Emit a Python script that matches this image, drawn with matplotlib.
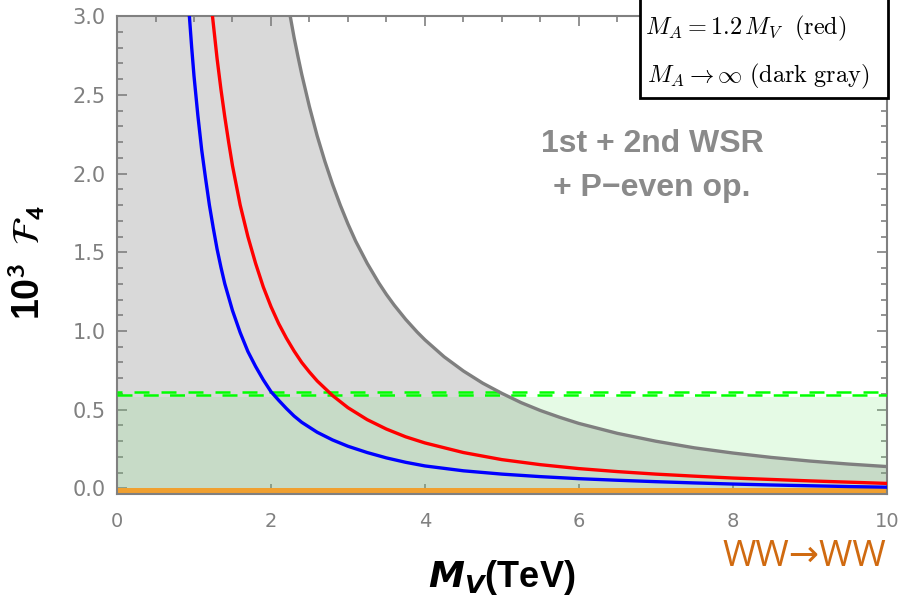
import matplotlib.pyplot as plt
from matplotlib.patches import Rectangle
from matplotlib.ticker import MultipleLocator

# curves: M_V (TeV) vs 10^3 F_4
blue_m = [0.94, 0.97, 1.0, 1.05, 1.1, 1.15, 1.2, 1.25, 1.3, 1.35, 1.4, 1.5, 1.6, 1.7, 1.8,
          1.9, 2.0, 2.1, 2.2, 2.3, 2.4, 2.6, 2.8, 3.0, 3.25, 3.5, 3.75, 4.0, 4.5, 5.0,
          5.5, 6.0, 6.5, 7.0, 7.5, 8.0, 8.5, 9.0, 9.5, 10.0]
blue_f = [3.0, 2.80, 2.62, 2.37, 2.15, 1.97, 1.80, 1.655, 1.52, 1.405, 1.30, 1.13, 0.99,
          0.87, 0.775, 0.69, 0.615, 0.56, 0.508, 0.46, 0.42, 0.357, 0.308, 0.268, 0.228,
          0.194, 0.166, 0.143, 0.112, 0.091, 0.075, 0.062, 0.052, 0.043, 0.035, 0.028,
          0.022, 0.017, 0.012, 0.008]

red_m = [1.24, 1.27, 1.3, 1.35, 1.4, 1.45, 1.5, 1.55, 1.6, 1.7, 1.8, 1.9, 2.0, 2.1, 2.2,
         2.3, 2.4, 2.5, 2.6, 2.8, 3.0, 3.25, 3.5, 3.75, 4.0, 4.5, 5.0, 5.5, 6.0, 6.5,
         7.0, 7.5, 8.0, 8.5, 9.0, 9.5, 10.0]
red_f = [3.0, 2.865, 2.73, 2.535, 2.36, 2.20, 2.05, 1.925, 1.80, 1.60, 1.43, 1.28, 1.155,
         1.047, 0.955, 0.873, 0.80, 0.739, 0.683, 0.59, 0.513, 0.437, 0.377, 0.328, 0.289,
         0.228, 0.183, 0.151, 0.126, 0.107, 0.091, 0.078, 0.066, 0.057, 0.048, 0.040, 0.032]

gray_m = [2.25, 2.3, 2.35, 2.4, 2.5, 2.6, 2.7, 2.8, 2.9, 3.0, 3.1, 3.25, 3.4, 3.5, 3.6,
          3.75, 3.9, 4.0, 4.25, 4.5, 4.75, 5.0, 5.25, 5.5, 5.75, 6.0, 6.5, 7.0, 7.5, 8.0,
          8.5, 9.0, 9.5, 10.0]
gray_f = [3.0, 2.865, 2.745, 2.63, 2.424, 2.24, 2.078, 1.932, 1.80, 1.68, 1.571, 1.43,
          1.306, 1.232, 1.165, 1.074, 0.993, 0.944, 0.836, 0.746, 0.669, 0.604, 0.545,
          0.495, 0.452, 0.413, 0.350, 0.300, 0.258, 0.225, 0.197, 0.174, 0.155, 0.139]

ww_bound = 0.58           # shaded WW->WW region
ww_dash = [0.592, 0.612]  # dashed bound lines
y_bottom = -0.035

fig, ax = plt.subplots(figsize=(9.03, 5.98), dpi=100)
fig.subplots_adjust(left=0.1296, right=0.982, top=0.973, bottom=0.174)

# gray allowed band (M_A -> inf)
ax.fill_between([0] + gray_m, [3.0] + gray_f, y_bottom, color='#d9d9d9', lw=0, zorder=1)
# green WW region
ax.axhspan(y_bottom, ww_bound, color=(0.5, 0.9, 0.5), alpha=0.2, lw=0, zorder=2)
ax.axhspan(y_bottom, 0.0, color='#f0a030', lw=0, zorder=2)
ax.axhline(ww_dash[0], color='#00ff00', lw=1.8, ls=(0, (6, 4.5)), zorder=3)
ax.axhline(ww_dash[1], color='#00ff00', lw=1.8, ls=(4, (6, 4.8)), zorder=3)

ax.plot(gray_m, gray_f, color='#7f7f7f', lw=2.4, zorder=4)
ax.plot(blue_m, blue_f, color='#0000ff', lw=2.4, zorder=5)
ax.plot(red_m, red_f, color='#ff0000', lw=2.4, zorder=5)

ax.set_xlim(0, 10)
ax.set_ylim(y_bottom, 3.0)
ax.xaxis.set_major_locator(MultipleLocator(2))
ax.xaxis.set_minor_locator(MultipleLocator(0.5))
ax.yaxis.set_minor_locator(MultipleLocator(0.1))
ax.set_yticks([0, 0.5, 1.0, 1.5, 2.0, 2.5, 3.0])
ax.set_yticklabels(['0.0', '0.5', '1.0', '1.5', '2.0', '2.5', '3.0'])
ax.tick_params(which='both', direction='in', top=True, right=True, color='#808080',
               labelcolor='#808080', width=1.2)
ax.tick_params(which='major', length=7)
ax.tick_params(which='minor', length=4)
ax.tick_params(axis='x', pad=13, labelsize=14)
ax.tick_params(axis='y', pad=8, labelsize=15)
for sp in ax.spines.values():
    sp.set_color('#808080')
    sp.set_linewidth(1.5)

ax.set_xlabel(r'$\mathbfit{M}_{\mathbfit{V}}$(TeV)', fontsize=26, fontweight='bold',
              family='Liberation Sans', math_fontfamily='dejavusans')
ax.xaxis.set_label_coords(0.5, -0.135)
ax.set_ylabel(r'10$^{\mathbf{3}}$ $\ \mathcal{F}_{\mathbf{4}}$', fontsize=27,
              fontweight='bold', family='Liberation Sans', math_fontfamily='stixsans')
ax.yaxis.set_label_coords(-0.09, 0.485)

ax.text(6.95, 2.05, '1st + 2nd WSR\n+ P\u2212even op.', ha='center', va='center',
        fontsize=23, fontweight='bold', color='#8a8a8a', family='Liberation Sans',
        linespacing=1.6)

# legend box
fig.patches.append(Rectangle((640 / 903, 1 - 98 / 598), 248 / 903, 0.2, transform=fig.transFigure,
                             facecolor='white', edgecolor='black', lw=2, zorder=10))
fig.text(645 / 903, 1 - 28 / 598, r'$M_A = 1.2\,M_V\ \ (\mathrm{red})$', fontsize=17.5,
         math_fontfamily='cm', va='center', zorder=11)
fig.text(647 / 903, 1 - 76 / 598, r'$M_A \to \infty\ (\mathrm{dark\ gray})$', fontsize=17.5,
         math_fontfamily='cm', va='center', zorder=11)

fig.text(804 / 903, 1 - 557 / 598, 'WW\u2192WW', fontsize=26, color='#d06a10',
         family=['Open Sans', 'DejaVu Sans'], ha='center', va='center')

fig.savefig('out.png', dpi=100)
